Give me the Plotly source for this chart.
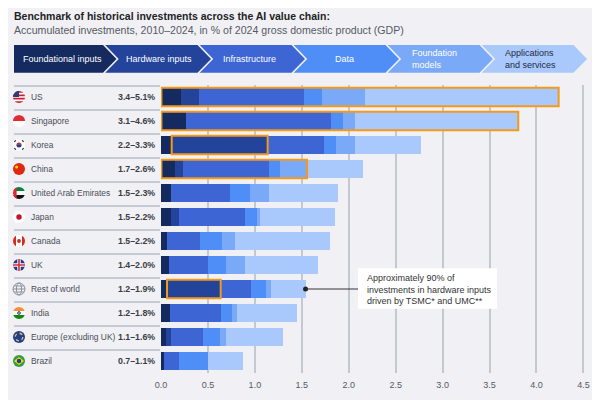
import math
import plotly.graph_objects as go

countries = ["US", "Singapore", "Korea", "China", "United Arab Emirates", "Japan",
             "Canada", "UK", "Rest of world", "India", "Europe (excluding UK)", "Brazil"]
ranges = ["3.4–5.1%", "3.1–4.6%", "2.2–3.3%", "1.7–2.6%", "1.5–2.3%", "1.5–2.2%",
          "1.5–2.2%", "1.4–2.0%", "1.2–1.9%", "1.2–1.8%", "1.1–1.6%", "0.7–1.1%"]

foundational = [0.21, 0.27, 0.11, 0.15, 0.11, 0.11, 0.06, 0.08, 0.06, 0.10, 0.05, 0.03]
hardware = [0.19, 0.00, 1.03, 0.08, 0.00, 0.08, 0.00, 0.00, 0.58, 0.00, 0.06, 0.00]
infrastructure = [1.12, 1.54, 0.60, 0.92, 0.63, 0.71, 0.36, 0.42, 0.32, 0.54, 0.34, 0.16]
data_seg = [0.20, 0.13, 0.12, 0.12, 0.21, 0.12, 0.23, 0.19, 0.16, 0.12, 0.18, 0.31]
foundation_models = [0.45, 0.13, 0.21, 0.29, 0.20, 0.03, 0.14, 0.20, 0.05, 0.05, 0.06, 0.00]
applications = [2.07, 1.74, 0.70, 0.59, 0.74, 0.80, 1.01, 0.78, 0.37, 0.64, 0.61, 0.37]

segment_names = ["Foundational inputs", "Hardware inputs", "Infrastructure", "Data",
                 "Foundation models", "Applications and services"]
header_labels = ["Foundational inputs", "Hardware inputs", "Infrastructure", "Data",
                 "Foundation<br>models", "Applications<br>and services"]
colors = ["#152b5f", "#24449b", "#3d65d4", "#4f8ef7", "#7aaaf7", "#a9c8fc"]
segments = [foundational, hardware, infrastructure, data_seg, foundation_models, applications]

# (row, first segment, last segment) outlined in orange
highlights = [(0, 0, 5), (1, 0, 5), (2, 1, 1), (3, 0, 4), (8, 1, 1)]

# page has an 8px body margin, so the figure is 8px smaller and all
# reference pixel positions are shifted by OFF
OFF = 8
W, H = 592, 392
L, R, T, B = 153, 10, 77, 19
PW, PH = W - L - R, H - T - B
XMAX = 4.57
BG = "#f1f1f5"
FONT = "Liberation Sans, Arial, sans-serif"


def px(x):
    return (x - OFF - L) / PW


def py(y):
    return (H - B - (y - OFF)) / PH


fig = go.Figure()
for name, vals, col in zip(segment_names, segments, colors):
    fig.add_trace(go.Bar(y=countries, x=vals, name=name, orientation="h",
                         marker=dict(color=col, line=dict(width=0))))

shapes = []
annotations = []

# orange outlines
half = 0.385
for row, s0, s1 in highlights:
    x0 = sum(segments[k][row] for k in range(s0))
    x1 = sum(segments[k][row] for k in range(s1 + 1))
    shapes.append(dict(type="rect", xref="x", yref="y", x0=x0 + 0.004, x1=x1 - 0.004,
                       y0=row - half, y1=row + half,
                       line=dict(color="#f39a1b", width=2), layer="above"))

# row separators + labels
for i, (c, r) in enumerate(zip(countries, ranges)):
    shapes.append(dict(type="line", xref="paper", yref="y", x0=px(14), x1=px(160),
                       y0=i - 0.46, y1=i - 0.46, line=dict(color="#b9bdc6", width=1.5)))
    annotations.append(dict(xref="paper", yref="y", x=px(29), y=c, text=c, showarrow=False,
                            xanchor="left", yanchor="middle",
                            font=dict(family=FONT, size=8.4, color="#4a4d55")))
    annotations.append(dict(xref="paper", yref="y", x=px(157), y=c, text="<b>" + r + "</b>",
                            showarrow=False, xanchor="right", yanchor="middle",
                            font=dict(family=FONT, size=8.8, color="#3a3d45")))


# flag icons (pixel sized, anchored at each row)
FR = 6


def band(lo, hi, vertical=False, r=FR, n=8):
    lo, hi = max(lo, -r), min(hi, r)
    pts = []
    for k in range(n + 1):
        t = lo + (hi - lo) * k / n
        pts.append((math.sqrt(max(r * r - t * t, 0)), t))
    for k in range(n, -1, -1):
        t = lo + (hi - lo) * k / n
        pts.append((-math.sqrt(max(r * r - t * t, 0)), t))
    if vertical:
        pts = [(b, a) for a, b in pts]
    return "M " + " L ".join("%.2f,%.2f" % p for p in pts) + " Z"


def quarter(r=FR, n=8):
    pts = [(0, 0)]
    for k in range(n + 1):
        a = math.pi / 2 + (math.pi / 2) * k / n
        pts.append((r * math.cos(a), r * math.sin(a)))
    return "M " + " L ".join("%.2f,%.2f" % p for p in pts) + " Z"


fx = px(19)


def icon(row, **kw):
    base = dict(xref="paper", yref="y", xsizemode="pixel", ysizemode="pixel",
                xanchor=fx, yanchor=row, layer="above")
    base.update(kw)
    if "line" not in kw:
        base["line"] = dict(width=0)
    shapes.append(base)


def disc(row, r, color, cx=0, cy=0, line=None):
    kw = dict(type="circle", x0=cx - r, x1=cx + r, y0=cy - r, y1=cy + r, fillcolor=color)
    if line:
        kw["line"] = line
    icon(row, **kw)


def poly(row, path, color):
    icon(row, type="path", path=path, fillcolor=color)


# US
disc(0, FR, "white")
sh = 12 / 7
for k in range(0, 7, 2):
    poly(0, band(FR - (k + 1) * sh, FR - k * sh), "#c8202f")
poly(0, quarter(), "#2a3a80")
# Singapore
disc(1, FR, "white")
poly(1, band(0, FR), "#e02b2f")
# Korea
disc(2, FR, "white")
poly(2, band(0, 2.6, r=2.6), "#cd2e3a")
poly(2, band(-2.6, 0, r=2.6), "#0047a0")
for sx, sy in [(-1, 1), (1, 1), (-1, -1), (1, -1)]:
    icon(2, type="path", path="M %.1f,%.1f L %.1f,%.1f" % (sx * 3.2, sy * 4.6, sx * 4.6, sy * 3.2),
         line=dict(color="#222", width=1.2))
# China
disc(3, FR, "#de2910")
disc(3, 1.5, "#ffde00", cx=-2.4, cy=2.0)
# UAE
disc(4, FR, "white")
poly(4, band(2, FR), "#00843d")
poly(4, band(-FR, -2), "#111111")
poly(4, band(-FR, -2.4, vertical=True), "#e0262f")
# Japan
disc(5, FR, "white")
disc(5, 2.7, "#c8102e")
# Canada
disc(6, FR, "white")
poly(6, band(-FR, -3, vertical=True), "#d52b1e")
poly(6, band(3, FR, vertical=True), "#d52b1e")
disc(6, 1.9, "#d52b1e")
# UK
disc(7, FR, "#1f3a8a")
poly(7, band(-1.7, 1.7), "white")
poly(7, band(-1.7, 1.7, vertical=True), "white")
poly(7, band(-0.8, 0.8), "#d22a3a")
poly(7, band(-0.8, 0.8, vertical=True), "#d22a3a")
# Rest of world
disc(8, FR, "rgba(0,0,0,0)", line=dict(color="#8d929c", width=1))
icon(8, type="circle", x0=-2.6, x1=2.6, y0=-FR, y1=FR, fillcolor="rgba(0,0,0,0)",
     line=dict(color="#8d929c", width=1))
for yy, xx in [(0, 6), (3, 5.2), (-3, 5.2)]:
    icon(8, type="path", path="M %.1f,%.1f L %.1f,%.1f" % (-xx, yy, xx, yy),
         line=dict(color="#8d929c", width=1))
# India
disc(9, FR, "white")
poly(9, band(2, FR), "#f5922f")
poly(9, band(-FR, -2), "#138808")
disc(9, 1.3, "white", line=dict(color="#1a237e", width=1))
# Europe
disc(10, FR, "#1d3f9b")
disc(10, 3.8, "rgba(0,0,0,0)", line=dict(color="#ffcc00", width=1.3, dash="dot"))
# Brazil
disc(11, FR, "#2f9e44")
poly(11, "M -5,0 L 0,3.9 L 5,0 L 0,-3.9 Z", "#f7d117")
disc(11, 2.2, "#1f3f8f")

# header chevrons
bounds = [14, 103, 197.5, 291.5, 385.5, 479.5, 573.5]
depth, gap, top, bot = 13.5, 2.2, 44, 72.5
mid = (top + bot) / 2
text_x = [21, 124, 221, 333, 410, 503]
for i in range(6):
    a, b = bounds[i] + (gap if i else 0), bounds[i + 1]
    pts = [(a, top), (b, top), (b + depth, mid), (b, bot), (a, bot)]
    if i:
        pts.append((a + depth, mid))
    path = "M " + " L ".join("%.4f,%.4f" % (px(x), py(y)) for x, y in pts) + " Z"
    shapes.append(dict(type="path", xref="paper", yref="paper", path=path,
                       fillcolor=colors[i], line=dict(width=0)))
    annotations.append(dict(xref="paper", yref="paper", x=px(text_x[i]), y=py(mid + 0.5),
                            text=header_labels[i], showarrow=False, xanchor="left",
                            yanchor="middle", align="left",
                            font=dict(family=FONT, size=9,
                                      color="#1f2a44" if i == 5 else "white")))

# title (kept just inside the top edge of the figure)
annotations.append(dict(xref="paper", yref="paper", x=px(12), y=py(14),
                        text="<b>Benchmark of historical investments across the AI value chain:</b>",
                        showarrow=False, xanchor="left", yanchor="middle",
                        font=dict(family=FONT, size=10.5, color="#222")))
annotations.append(dict(xref="paper", yref="paper", x=px(12), y=py(28),
                        text="Accumulated investments, 2010–2024, in % of 2024 gross domestic product (GDP)",
                        showarrow=False, xanchor="left", yanchor="middle",
                        font=dict(family=FONT, size=10.6, color="#555a63")))

# callout for Rest of world
row = 8
bar_end = sum(s[row] for s in segments)
box_x0, box_x1 = 358, 497
shapes.append(dict(type="rect", xref="paper", yref="y", x0=px(box_x0), x1=px(box_x1),
                   y0=row - 0.86, y1=row + 0.82, fillcolor="white", line=dict(width=0),
                   layer="above"))
shapes.append(dict(type="line", xref="x", yref="y", x0=bar_end, y0=row,
                   x1=px(box_x0) * XMAX, y1=row, line=dict(color="#333", width=1),
                   layer="above"))
fig.add_trace(go.Scatter(x=[bar_end], y=[countries[row]], mode="markers",
                         marker=dict(color="#222", size=5), showlegend=False,
                         hoverinfo="skip"))
annotations.append(dict(xref="paper", yref="y", x=px(365), y=row, showarrow=False,
                        text="Approximately 90% of<br>investments in hardware inputs<br>driven by TSMC* and UMC**",
                        xanchor="left", yanchor="middle", align="left",
                        font=dict(family=FONT, size=9, color="#333")))

fig.update_layout(
    width=W, height=H, barmode="stack", bargap=0.23, showlegend=False,
    paper_bgcolor=BG, plot_bgcolor=BG,
    margin=dict(l=L, r=R, t=T, b=B),
    shapes=shapes, annotations=annotations,
    xaxis=dict(range=[0, XMAX], tickvals=[0, 0.5, 1, 1.5, 2, 2.5, 3, 3.5, 4, 4.5],
               tickformat=".1f", showgrid=True, gridcolor="#c4c8d0", gridwidth=1.5,
               zeroline=False, showline=False, ticks="outside", ticklen=3,
               tickcolor=BG,
               tickfont=dict(family=FONT, size=9, color="#555a63"), fixedrange=True),
    yaxis=dict(type="category", categoryorder="array", categoryarray=countries,
               range=[11.5, -0.5], showticklabels=False, showgrid=False,
               zeroline=False, fixedrange=True),
)

fig.write_html("out.html")
